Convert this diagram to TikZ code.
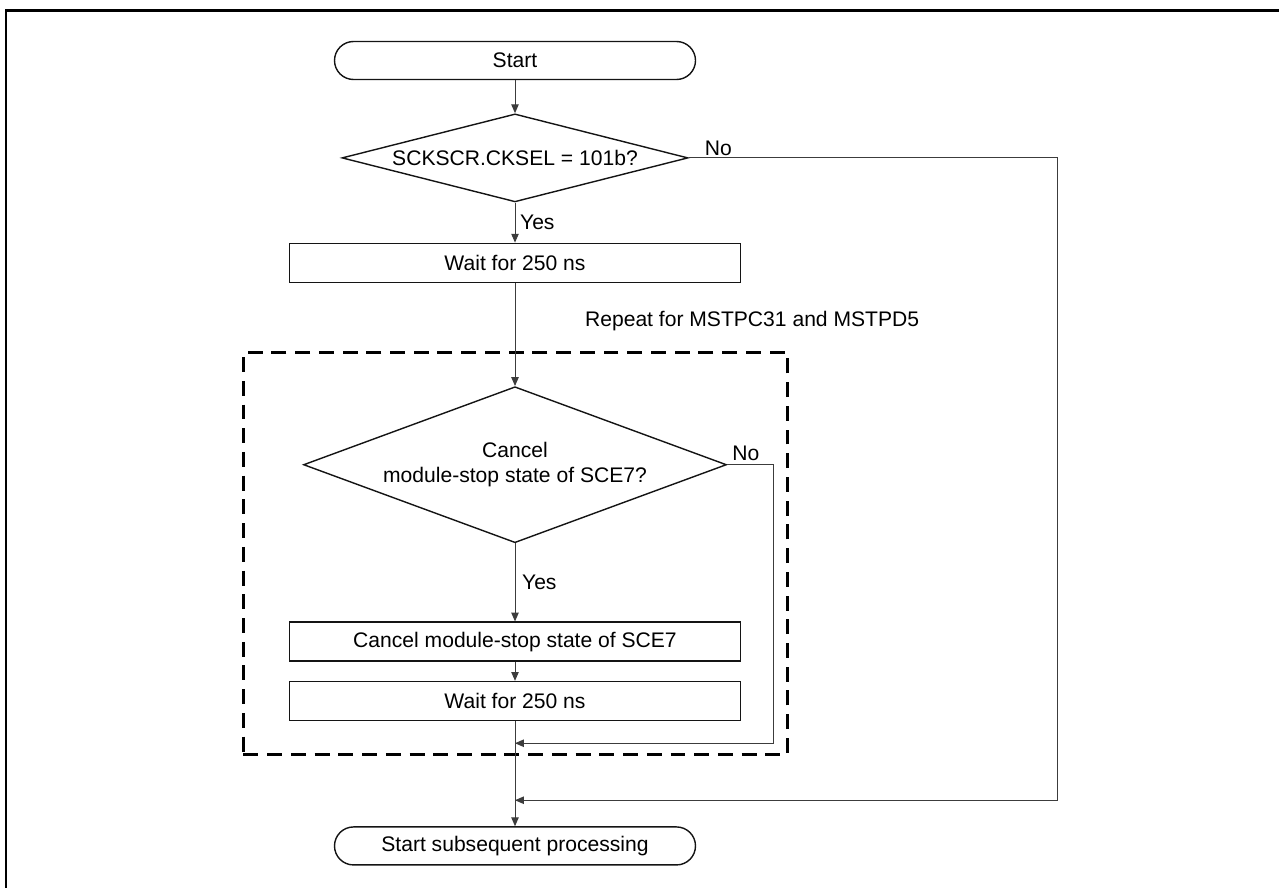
\documentclass[tikz,border=0pt]{standalone}
\usepackage{fontspec}
\setmainfont{Liberation Sans}
\usepackage{tikz}
\usetikzlibrary{
  shapes.geometric,
  arrows.meta,
  positioning,
  calc
}
\definecolor{lineblk}{RGB}{20,20,20}
\definecolor{linegray}{RGB}{60,60,60}
\tikzset{
  terminal/.style={
    rectangle, draw=lineblk, line width=0.8pt,
    rounded corners=0.38cm, minimum width=7.22cm, minimum height=0.76cm,
    text centered, font=\fontsize{12pt}{14pt}\selectfont
  },
  procbox/.style={
    rectangle, draw=lineblk, line width=0.8pt,
    minimum width=9.02cm, minimum height=0.78cm,
    text centered, font=\fontsize{12pt}{14pt}\selectfont
  },
  decision/.style={
    diamond, draw=lineblk, line width=0.8pt, inner sep=0pt,
    text centered, align=center, font=\fontsize{12pt}{14pt}\selectfont
  },
  lbl/.style={font=\fontsize{12pt}{14pt}\selectfont, inner sep=1pt},
  arrow/.style={-{Triangle[length=5pt,width=4.2pt]}, line width=0.55pt, linegray},
  line/.style={line width=0.55pt, linegray},
  loopbox/.style={draw=black, line width=1.7pt, dash pattern=on 8.5pt off 5pt},
  frameline/.style={draw=black, line width=1.7pt},
}
\begin{document}
\begin{tikzpicture}
  \useasboundingbox (0,0) rectangle (25.58,-17.76);

  %% Frame
  \draw[frameline] (0.12,-17.76) -- (0.12,-0.21) -- (25.58,-0.21);

  %% Main column
  \node[terminal] (start) at (10.3,-1.21) {Start};
  \node[decision, aspect=3.93, minimum width=6.92cm, minimum height=1.76cm,
    below=0.66cm of start] (dec1) {SCKSCR.CKSEL = 101b?};
  \node[procbox, below=0.8cm of dec1] (wait1) {Wait for 250 ns};
  \node[decision, aspect=2.71, minimum width=8.46cm, minimum height=3.12cm,
    below=2.06cm of wait1] (dec2) {Cancel\\module-stop state of SCE7?};
  \node[procbox, below=1.56cm of dec2] (cancel) {Cancel module-stop state of SCE7};
  \node[procbox, below=0.38cm of cancel] (wait2) {Wait for 250 ns};
  \node[terminal, below=2.1cm of wait2] (end) {Start subsequent processing};

  %% Repeat loop
  \node[loopbox, minimum width=10.88cm, minimum height=8.04cm, anchor=north west]
    (loop) at (4.84,-7.02) {};
  \node[lbl, anchor=west] (rpt) at (11.66,-6.42) {Repeat for MSTPC31 and MSTPD5};

  %% Join points
  \coordinate[below=0.44cm of wait2] (join1);
  \coordinate[below=1.58cm of wait2] (join2);

  %% Arrows
  \foreach \from/\to in {start/dec1, dec1/wait1, wait1/dec2,
      dec2/cancel, cancel/wait2, wait2/end}
    \draw[arrow] (\from) -- (\to);

  \draw[arrow] (dec2.east) -- ++(0.92,0) |- (join1);
  \draw[arrow] (dec1.east) -- ++(7.38,0) |- (join2);

  %% Branch labels
  \node[lbl, anchor=south west] (no1) at ([xshift=0.28cm]dec1.east) {No};
  \node[lbl, anchor=south west] (no2) at ([xshift=0.06cm,yshift=0.04cm]dec2.east) {No};
  \node[lbl, anchor=west] (yes1) at ($(dec1.south)!0.5!(wait1.north)+(0.06,0)$) {Yes};
  \node[lbl, anchor=west] (yes2) at ($(dec2.south)!0.5!(cancel.north)+(0.1,0)$) {Yes};

\end{tikzpicture}
\end{document}
